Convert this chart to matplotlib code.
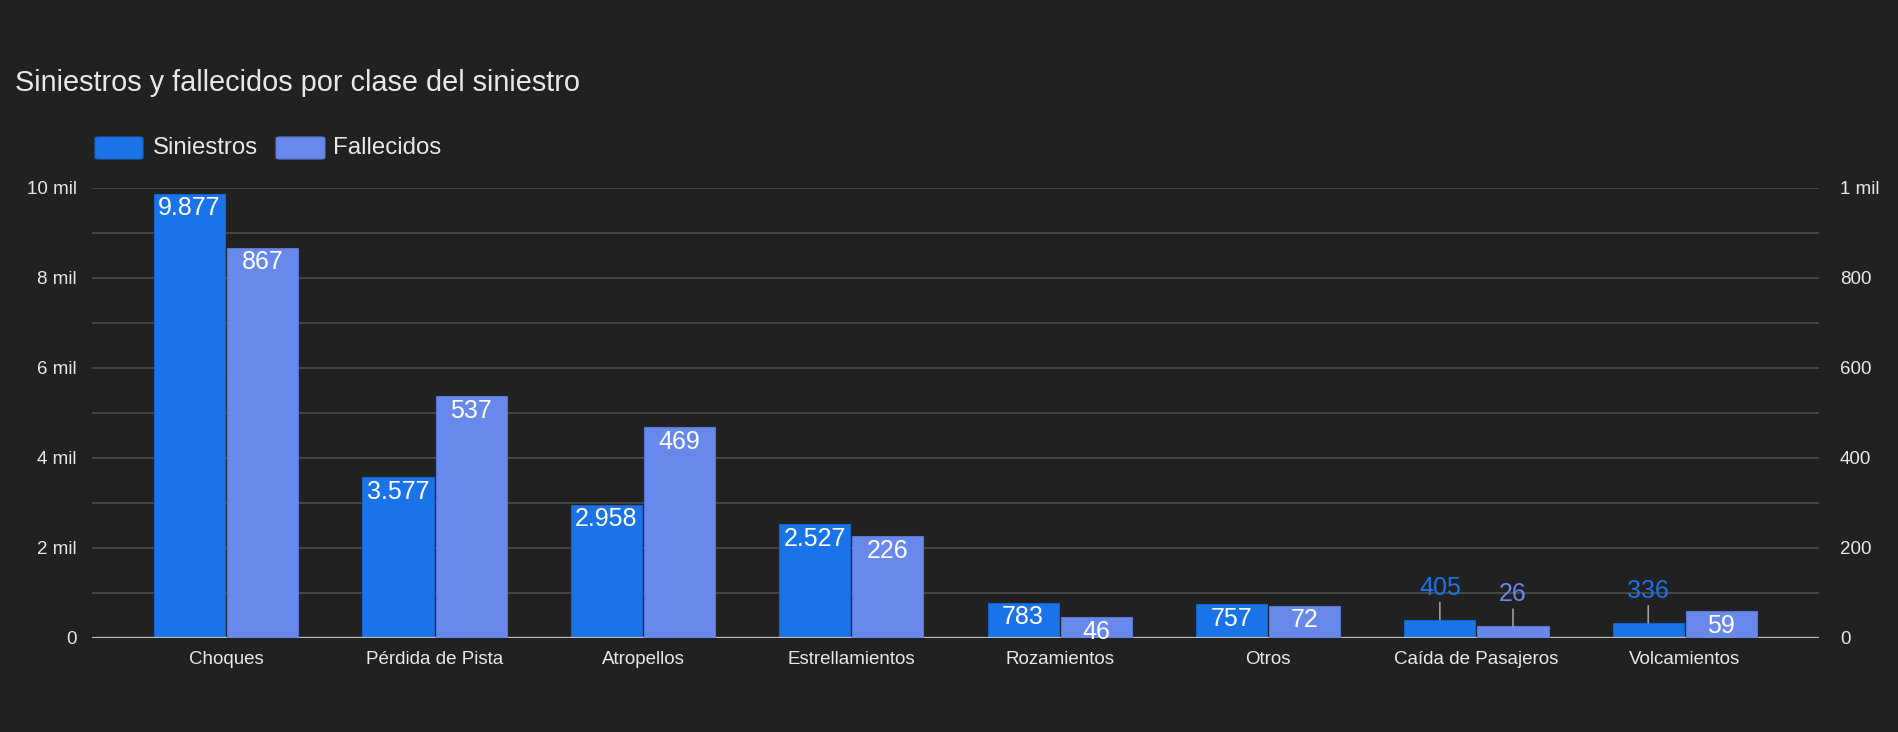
import numpy as np
import matplotlib
matplotlib.use("Agg")
import matplotlib.pyplot as plt
from matplotlib.patches import FancyBboxPatch

plt.rcParams["font.family"] = ["Liberation Sans", "DejaVu Sans"]

# datos
clases = [
    "Choques",
    "Pérdida de Pista",
    "Atropellos",
    "Estrellamientos",
    "Rozamientos",
    "Otros",
    "Caída de Pasajeros",
    "Volcamientos",
]
siniestros = [9877, 3577, 2958, 2527, 783, 757, 405, 336]
fallecidos = [867, 537, 469, 226, 46, 72, 26, 59]
ticks_izq = [0, 2000, 4000, 6000, 8000, 10000]
labels_izq = ["0", "2 mil", "4 mil", "6 mil", "8 mil", "10 mil"]
ticks_der = [0, 200, 400, 600, 800, 1000]
labels_der = ["0", "200", "400", "600", "800", "1 mil"]

BG = "#212121"
C_SIN = "#1a73e8"
C_FAL = "#6889eb"
TXT = "#e8e8e8"
GRID = "#474747"

fig = plt.figure(figsize=(18.99, 7.32), dpi=100, facecolor=BG)
ax = fig.add_axes([92 / 1899, 1 - 638 / 732, (1819 - 92) / 1899, (638 - 188) / 732])
ax.set_facecolor(BG)
ax2 = ax.twinx()

x = np.arange(len(clases))
w = 0.341
off = 0.1755

b1 = ax.bar(x - off, siniestros, w, color=C_SIN, edgecolor="#1763c8", linewidth=0.8, zorder=3)
b2 = ax2.bar(x + off, fallecidos, w, color=C_FAL, edgecolor="#5877d0", linewidth=0.8, zorder=3)

ax.set_xlim(-0.644, len(clases) - 1 + 0.644)
ax.set_ylim(0, 10000)
ax2.set_ylim(0, 1000)

ax.set_yticks(ticks_izq)
ax.set_yticklabels(labels_izq)
ax.set_yticks(np.arange(1000, 10000, 2000), minor=True)
ax2.set_yticks(ticks_der)
ax2.set_yticklabels(labels_der)

ax.grid(axis="y", which="both", color=GRID, linewidth=1.4, zorder=0)
ax.set_axisbelow(True)
ax.axhline(0, color="#bdbdbd", linewidth=1.6, zorder=4)

ax.set_xticks(x)
ax.set_xticklabels(clases)
for a in (ax, ax2):
    for s in a.spines.values():
        s.set_visible(False)
    a.tick_params(axis="both", which="both", length=0, colors=TXT, labelsize=13.5)
ax.tick_params(axis="y", pad=11)
ax2.tick_params(axis="y", pad=15)
ax.tick_params(axis="x", pad=9)


def fmt(v):
    return f"{v:,}".replace(",", ".")


def etiquetar(a, bars, vals, ymax, color):
    for rect, v in zip(bars, vals):
        cx = rect.get_x() + rect.get_width() / 2
        if v / ymax >= 0.045:
            a.annotate(fmt(v), xy=(cx, v), xytext=(0, -10.5), textcoords="offset points",
                       ha="center", va="center", color="white", fontsize=18, zorder=5)
        else:
            a.annotate(fmt(v), xy=(cx, v), xytext=(0, 23), textcoords="offset points",
                       ha="center", va="center", color=color, fontsize=18, zorder=5,
                       arrowprops=dict(arrowstyle="-", color="#9e9e9e", lw=1.2,
                                       shrinkA=0, shrinkB=0, relpos=(0.5, 0.05)))


etiquetar(ax, b1, siniestros, 10000, C_SIN)
etiquetar(ax2, b2, fallecidos, 1000, C_FAL)

# titulo y leyenda
fig.text(15 / 1899, 1 - 91 / 732, "Siniestros y fallecidos por clase del siniestro",
         color=TXT, fontsize=20.8, ha="left", va="baseline")

for (x0, x1, tx, lab, col, ec) in [
    (95, 143, 153, "Siniestros", C_SIN, "#1763c8"),
    (276, 325, 333, "Fallecidos", C_FAL, "#5877d0"),
]:
    fig.patches.append(FancyBboxPatch(
        (x0 / 1899, 1 - 159 / 732), (x1 - x0) / 1899, 22 / 732,
        boxstyle="round,pad=0,rounding_size=0.002", transform=fig.transFigure,
        facecolor=col, edgecolor=ec, linewidth=0.8))
    fig.text(tx / 1899, 1 - 148 / 732, lab, color=TXT, fontsize=17.3, ha="left", va="center")

fig.savefig("out.png", dpi=100, facecolor=BG)
